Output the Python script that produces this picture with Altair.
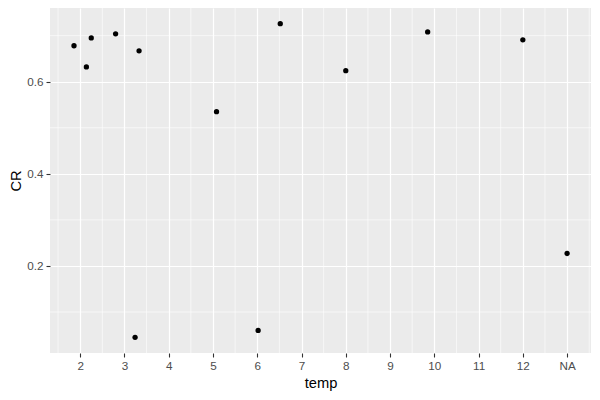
import altair as alt
import pandas as pd

# data (NA temperature placed at position 13)
temp = [1.86, 2.14, 2.25, 2.8, 3.33, 3.24, 5.08, 6.02, 6.52, 8.0, 9.85, 12.0, 13.0]
cr = [0.678, 0.632, 0.695, 0.704, 0.667, 0.045, 0.535, 0.060, 0.726, 0.624, 0.708, 0.691, 0.227]

x_ticks = [2, 3, 4, 5, 6, 7, 8, 9, 10, 11, 12, 13]
x_labels = ["2", "3", "4", "5", "6", "7", "8", "9", "10", "11", "12", "NA"]
y_ticks = [0.2, 0.4, 0.6]
x_minor = [1.5, 2.5, 3.5, 4.5, 5.5, 6.5, 7.5, 8.5, 9.5, 10.5, 11.5, 12.5, 13.5]
y_minor = [0.1, 0.3, 0.5, 0.7]

x_domain = [1.318, 13.54]
y_domain = [0.011, 0.760]

df = pd.DataFrame({"temp": temp, "CR": cr})
xm = pd.DataFrame({"v": x_minor})
ym = pd.DataFrame({"v": y_minor})

label_map = "{" + ",".join(f"'{t}':'{l}'" for t, l in zip(x_ticks, x_labels)) + "}"

xscale = alt.Scale(domain=x_domain, nice=False, zero=False)
yscale = alt.Scale(domain=y_domain, nice=False, zero=False)

xaxis = alt.Axis(values=x_ticks, labelExpr=f"{label_map}[datum.value]", title="temp")
yaxis = alt.Axis(values=y_ticks, format=".1f", title="CR")

minor_x = alt.Chart(xm).mark_rule(color="white", strokeWidth=0.6).encode(
    x=alt.X("v:Q", scale=xscale, axis=xaxis)
)
minor_y = alt.Chart(ym).mark_rule(color="white", strokeWidth=0.6).encode(
    y=alt.Y("v:Q", scale=yscale, axis=yaxis)
)
points = alt.Chart(df).mark_circle(color="black", opacity=1, size=28).encode(
    x=alt.X("temp:Q", scale=xscale, axis=xaxis),
    y=alt.Y("CR:Q", scale=yscale, axis=yaxis),
)

chart = (
    alt.layer(minor_x, minor_y, points)
    .properties(
        width=541,
        height=345,
        autosize=alt.AutoSizeParams(type="none"),
        padding={"left": 42, "top": 0, "right": 0, "bottom": 40},
    )
    .configure_view(fill="#EBEBEB", stroke=None)
    .configure_axis(
        grid=True,
        gridColor="white",
        gridWidth=1.2,
        domain=False,
        tickColor="#333333",
        tickSize=4,
        tickWidth=1.1,
        labelColor="#4D4D4D",
        labelFont="Liberation Sans",
        labelFontSize=11.7,
        titleFont="Liberation Sans",
        titleFontSize=14.7,
        titleFontWeight="normal",
        titleColor="black",
        labelPadding=3,
    )
    .configure_axisX(titlePadding=4, labelFlush=False)
    .configure_axisY(titlePadding=3, labelFlush=False)
)

chart.save("out.html", embed_options={"renderer": "svg", "actions": False})
